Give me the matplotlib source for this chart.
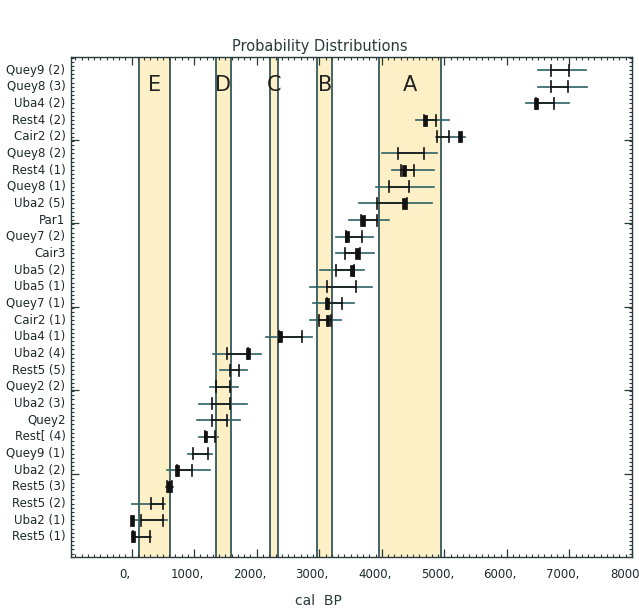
import matplotlib
matplotlib.use("Agg")
import matplotlib.pyplot as plt
from matplotlib.ticker import MultipleLocator, FixedLocator
from matplotlib.patches import Rectangle
import matplotlib.transforms as mtransforms
import numpy as np

# ---- data (bottom to top) ----
labels = ["Rest5 (1)", "Uba2 (1)", "Rest5 (2)", "Rest5 (3)", "Uba2 (2)", "Quey9 (1)",
          "Rest[ (4)", "Quey2", "Uba2 (3)", "Quey2 (2)", "Rest5 (5)", "Uba2 (4)",
          "Uba4 (1)", "Cair2 (1)", "Quey7 (1)", "Uba5 (1)", "Uba5 (2)", "Cair3",
          "Quey7 (2)", "Par1", "Uba2 (5)", "Quey8 (1)", "Rest4 (1)", "Quey8 (2)",
          "Cair2 (2)", "Rest4 (2)", "Uba4 (2)", "Quey8 (3)", "Quey9 (2)"]
outer_lo = [0, 0, 0, 545, 560, 900, 1070, 1050, 1080, 1260, 1410, 1300,
            2150, 2850, 2900, 2850, 3010, 3270, 3270, 3480, 3640, 3900, 4170, 4010,
            4860, 4550, 6310, 6490, 6490]
outer_hi = [315, 560, 530, 660, 1250, 1280, 1380, 1740, 1850, 1700, 1840, 2060,
            2880, 3340, 3560, 3840, 3710, 3870, 3860, 4110, 4800, 4830, 4830, 4880,
            5330, 5070, 6990, 7280, 7270]
inner_lo = [20, 155, 315, 570, 720, 980, 1170, 1280, 1290, 1350, 1570, 1530,
            2360, 2990, 3120, 3120, 3270, 3410, 3430, 3670, 3920, 4110, 4310, 4260,
            4880, 4670, 6470, 6700, 6700]
inner_hi = [290, 500, 500, 645, 960, 1220, 1330, 1520, 1570, 1570, 1720, 1860,
            2720, 3180, 3360, 3590, 3560, 3650, 3680, 3920, 4400, 4440, 4510, 4670,
            5080, 4860, 6760, 6970, 6990]
block = [20, 10, np.nan, 600, 720, np.nan, 1180, np.nan, np.nan, np.nan, np.nan, 1860,
         2370, 3130, 3120, np.nan, 3520, 3600, 3440, 3700, 4350, np.nan, 4350, np.nan,
         5250, 4700, 6470, np.nan, np.nan]

zone_names = ["E", "D", "C", "B", "A"]
zone_lo = [110, 1350, 2205, 2970, 3950]
zone_hi = [610, 1585, 2345, 3210, 4950]

xticks = [0, 1000, 2000, 3000, 4000, 5000, 6000, 7000, 8000]
xticklabels = ["0,", "1000,", "2000,", "3000,", "4000,", "5000,", "6000,", "7000,", "8000"]

# ---- figure ----
fig = plt.figure(figsize=(6.39, 6.16), dpi=100)
ax = fig.add_axes([71/639, 59/616, 561/639, 500/616])
ax.set_xlim(-970, 8000)
ax.set_ylim(-0.2, 29.78)

edge = "#34585a"
line_c = "#2f6064"

for lo, hi, name in zip(zone_lo, zone_hi, zone_names):
    ax.add_patch(Rectangle((lo, -1), hi - lo, 40, facecolor="#fdf0c6",
                           edgecolor=edge, linewidth=1.3, zorder=1))
    ax.text((lo + hi) / 2, 28.1, name, ha="center", va="center",
            fontsize=15, color="#222222", zorder=5)

rows = np.arange(1, len(labels) + 1)
h = 0.33
for r, ol, oh, il, ih, b in zip(rows, outer_lo, outer_hi, inner_lo, inner_hi, block):
    ax.plot([ol, oh], [r, r], color=line_c, lw=1.2, zorder=3)
    ax.plot([il, ih], [r, r], color="#111111", lw=1.1, zorder=4)
    ax.plot([il, il], [r - h, r + h], color="#111111", lw=1.2, zorder=4)
    ax.plot([ih, ih], [r - h, r + h], color="#111111", lw=1.2, zorder=4)
    if not np.isnan(b):
        ax.add_patch(Rectangle((b - 30, r - h), 60, 2 * h, facecolor="#111111",
                               edgecolor="#111111", lw=0.5, zorder=4))

# ---- axes styling ----
for s in ax.spines.values():
    s.set_color("#2a3a3a")
    s.set_linewidth(1.0)

ax.set_xticks(xticks)
ax.set_xticklabels(xticklabels)
ax.xaxis.set_minor_locator(MultipleLocator(100))
ax.set_yticks([4.8, 9.8, 14.8, 19.8, 24.8])
ax.set_yticklabels([])
ax.yaxis.set_minor_locator(MultipleLocator(0.25))
ax.tick_params(axis="both", which="major", direction="in", length=6, width=0.9,
               color="#2a3a3a", top=True, right=True, labelsize=8.5,
               labelcolor="#1e2a2a", pad=8)
ax.tick_params(axis="both", which="minor", direction="in", length=2.2, width=0.8,
               color="#2a3a3a", top=True, right=True)

offset = mtransforms.ScaledTranslation(-7 / 100, 0, fig.dpi_scale_trans)
for lab in ax.get_xticklabels():
    lab.set_transform(lab.get_transform() + offset)

ytr = ax.get_yaxis_transform()
for r, lab in zip(rows, labels):
    ax.text(-0.01, r, lab, transform=ytr, ha="right", va="center",
            fontsize=8.5, color="#1e2a2a")

fig.text(320 / 639, 1 - 47 / 616, "Probability Distributions", ha="center",
         va="center", fontsize=10.5, color="#2a3a3a")
fig.text(318 / 639, 1 - 601 / 616, "cal  BP", ha="center", va="center",
         fontsize=10, color="#2a3a3a")

fig.savefig("out.png", dpi=100)
